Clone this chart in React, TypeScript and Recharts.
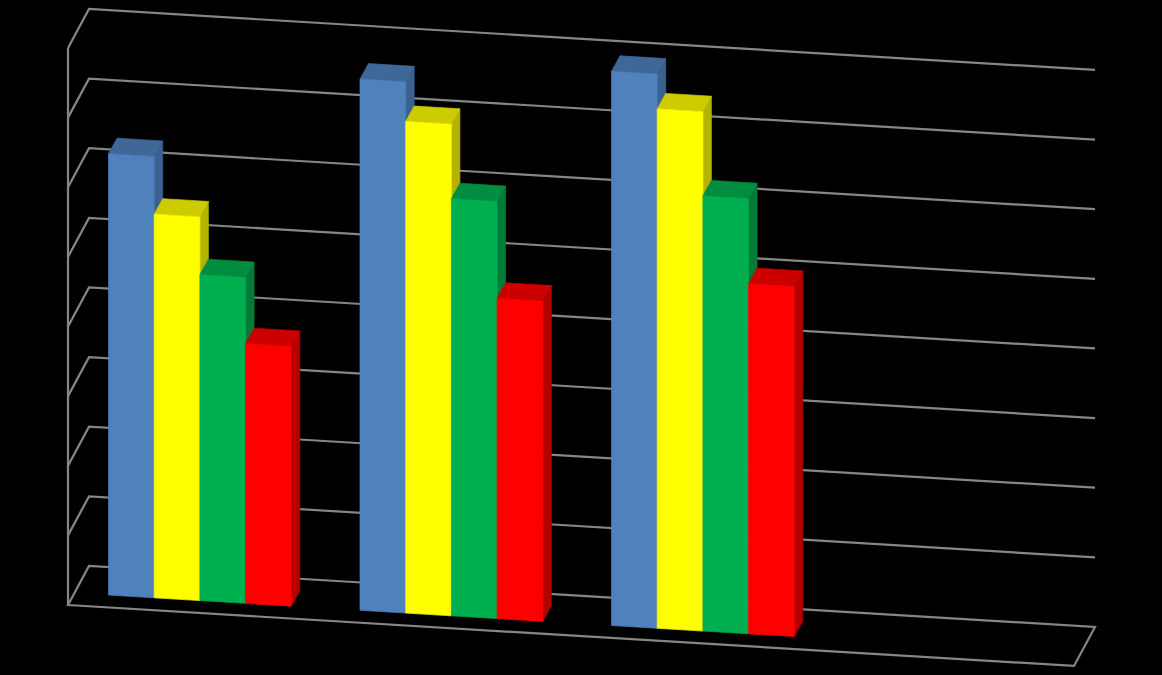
import { Bar, BarChart, CartesianGrid, XAxis, YAxis } from 'recharts'

const categories = ['Category 1', 'Category 2', 'Category 3', 'Category 4']
const series1 = [63.4, 76.3, 79.6, null]
const series2 = [55.1, 70.6, 74.6, null]
const series3 = [46.8, 59.9, 62.5, null]
const series4 = [37.3, 46.0, 50.3, null]
const yTicks = [0, 10, 20, 30, 40, 50, 60, 70, 80]

const data = categories.map((label, i) => ({
  label,
  series1: series1[i],
  series2: series2[i],
  series3: series3[i],
  series4: series4[i],
}))

const WIDTH = 1162
const HEIGHT = 675
const MARGIN = { left: 67, right: 88, top: 48, bottom: 70 }
const PLOT_LEFT = 68
const GRID_COLOR = '#868686'

// fake 3d: everything gets sheared down to the right, walls go back by WALL_DEPTH
const SHEAR = 0.0606
const WALL_DEPTH = { x: 21, y: -39 }
const BAR_DEPTH = { x: 8.5, y: -15.5 }
const BAR_INSET = { x: 6.5, y: -12 }

const shiftY = (x: number) => (x - PLOT_LEFT) * SHEAR

function gridLine(props: any) {
  const { x1, x2, y1 } = props
  const frontY = y1
  const rightY = y1 + shiftY(x2)
  const bx = WALL_DEPTH.x
  const by = WALL_DEPTH.y
  const isFloor = Math.abs(y1 - (HEIGHT - MARGIN.bottom)) < 1
  const d = isFloor
    ? `M${x1},${frontY} L${x2},${rightY} L${x2 + bx},${rightY + by} L${x1 + bx},${frontY + by} Z`
    : `M${x1},${frontY} L${x1 + bx},${frontY + by} L${x2 + bx},${rightY + by}`
  return <path key={`wall-${y1}`} d={d} fill="none" stroke={GRID_COLOR} strokeWidth={2.2} />
}

function makeBarShape(front: string, top: string, side: string) {
  return function BarShape(props: any) {
    const { x, y, width, height } = props
    if (!height || height <= 0) return <g />
    const l = x + BAR_INSET.x
    const r = l + width
    const dx = BAR_DEPTH.x
    const dy = BAR_DEPTH.y
    const tl = y + shiftY(x) + BAR_INSET.y
    const tr = y + shiftY(x + width) + BAR_INSET.y
    const bl = tl + height
    const br = tr + height
    // thin same-colour stroke closes the antialiased seams between faces
    return (
      <g strokeWidth={0.7} strokeLinejoin="round">
        <path d={`M${r},${tr} L${r + dx},${tr + dy} L${r + dx},${br + dy} L${r},${br} Z`} fill={side} stroke={side} />
        <path d={`M${l},${tl} L${l + dx},${tl + dy} L${r + dx},${tr + dy} L${r},${tr} Z`} fill={top} stroke={top} />
        <path d={`M${l},${tl} L${r},${tr} L${r},${br} L${l},${bl} Z`} fill={front} stroke={front} />
      </g>
    )
  }
}

const noTickLabel = () => <g />

export default function App() {
  return (
    <div style={{ position: 'fixed', left: 0, top: 0, width: WIDTH, height: HEIGHT, background: '#000' }}>
      <BarChart width={WIDTH} height={HEIGHT} data={data} margin={MARGIN} barSize={45.7} barGap={0}>
        <CartesianGrid vertical={false} horizontal={gridLine} />
        <XAxis dataKey="label" hide />
        <YAxis
          width={1}
          domain={[0, 80]}
          ticks={yTicks}
          interval={0}
          tick={noTickLabel}
          tickLine={false}
          axisLine={{ stroke: GRID_COLOR, strokeWidth: 2.2 }}
        />
        <Bar dataKey="series1" fill="#4F81BD" shape={makeBarShape('#4F81BD', '#3F6797', '#3B6190')} isAnimationActive={false} />
        <Bar dataKey="series2" fill="#FFFF00" shape={makeBarShape('#FFFF00', '#CCCC00', '#B3B300')} isAnimationActive={false} />
        <Bar dataKey="series3" fill="#00B050" shape={makeBarShape('#00B050', '#008D40', '#007B38')} isAnimationActive={false} />
        <Bar dataKey="series4" fill="#FF0000" shape={makeBarShape('#FF0000', '#CC0000', '#B30000')} isAnimationActive={false} />
      </BarChart>
    </div>
  )
}
